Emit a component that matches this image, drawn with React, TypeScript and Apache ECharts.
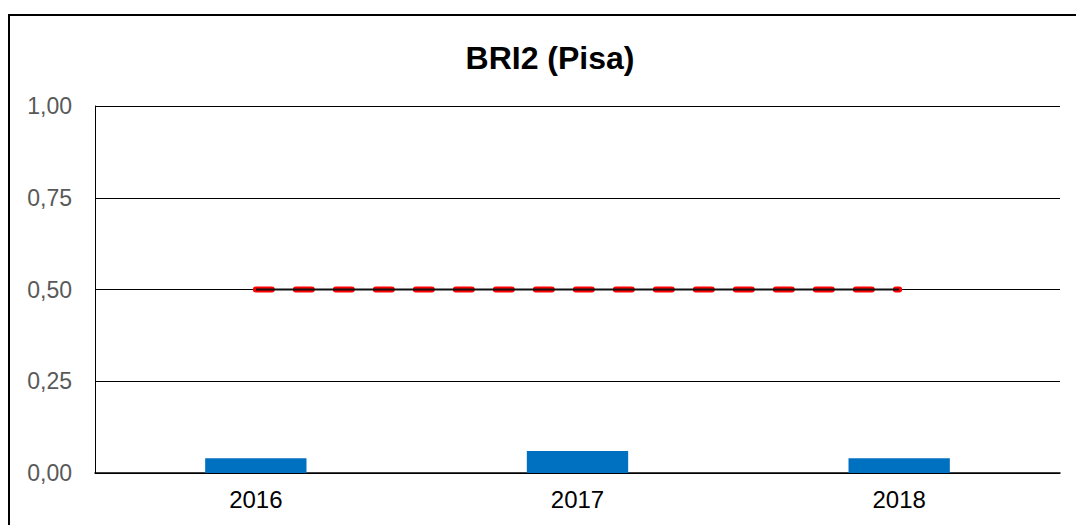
import React, { useEffect, useRef } from "react";
import * as echarts from "echarts";

const categories = ["2016", "2017", "2018"];
const barValues = [0.04, 0.06, 0.04];
const lineValues = [0.5, 0.5, 0.5];
const yTicks = [0, 0.25, 0.5, 0.75, 1];
const title = "BRI2 (Pisa)";

export default function App() {
  const ref = useRef<HTMLDivElement>(null);
  useEffect(() => {
    if (!ref.current) return;
    const chart = echarts.init(ref.current, null, { renderer: "svg" });
    chart.setOption({
      animation: false,
      backgroundColor: "#ffffff",
      title: {
        text: title,
        left: 545,
        textAlign: "center",
        top: 37,
        textStyle: { fontFamily: "Liberation Sans, Arial", fontSize: 32, fontWeight: "bold", color: "#000" },
      },
      graphic: [
        {
          type: "rect",
          shape: { x: 9, y: 15, width: 1200, height: 700 },
          style: { fill: "none", stroke: "#000", lineWidth: 2 },
          silent: true,
        },
      ],
      grid: { left: 95, top: 106, right: 16, bottom: 52, containLabel: false },
      xAxis: {
        type: "category",
        data: categories,
        boundaryGap: true,
        axisLine: { show: true, lineStyle: { color: "#000", width: 1.5 } },
        axisTick: { show: false },
        axisLabel: { color: "#000", fontSize: 24, fontFamily: "Liberation Sans, Arial", margin: 14 },
      },
      yAxis: {
        type: "value",
        min: 0,
        max: 1,
        interval: 0.25,
        axisLine: { show: true, lineStyle: { color: "#000", width: 1 } },
        axisTick: { show: false },
        splitLine: { show: true, lineStyle: { color: "#000", width: 1.2 } },
        axisLabel: {
          color: "#595959",
          fontSize: 23,
          fontFamily: "Liberation Sans, Arial",
          margin: 23,
          formatter: (v: number) => {
            const t = yTicks.find((x) => Math.abs(x - v) < 1e-9);
            return (t ?? v).toFixed(2).replace(".", ",");
          },
        },
      },
      series: [
        {
          type: "bar",
          data: barValues,
          barWidth: "31.5%",
          itemStyle: { color: "#0070C0" },
          z: 2,
        },
        {
          type: "line",
          data: lineValues,
          symbol: "none",
          lineStyle: { color: "#FF0000", width: 6, type: [16, 24], cap: "round", dashOffset: 0 },
          z: 3,
        },
        {
          type: "line",
          data: lineValues,
          symbol: "none",
          lineStyle: { color: "#111", width: 2 },
          z: 4,
        },
      ],
    });
    return () => chart.dispose();
  }, []);
  return (
    <div
      ref={ref}
      style={{ position: "fixed", left: 0, top: 0, width: 1076, height: 525, background: "#fff" }}
    />
  );
}
